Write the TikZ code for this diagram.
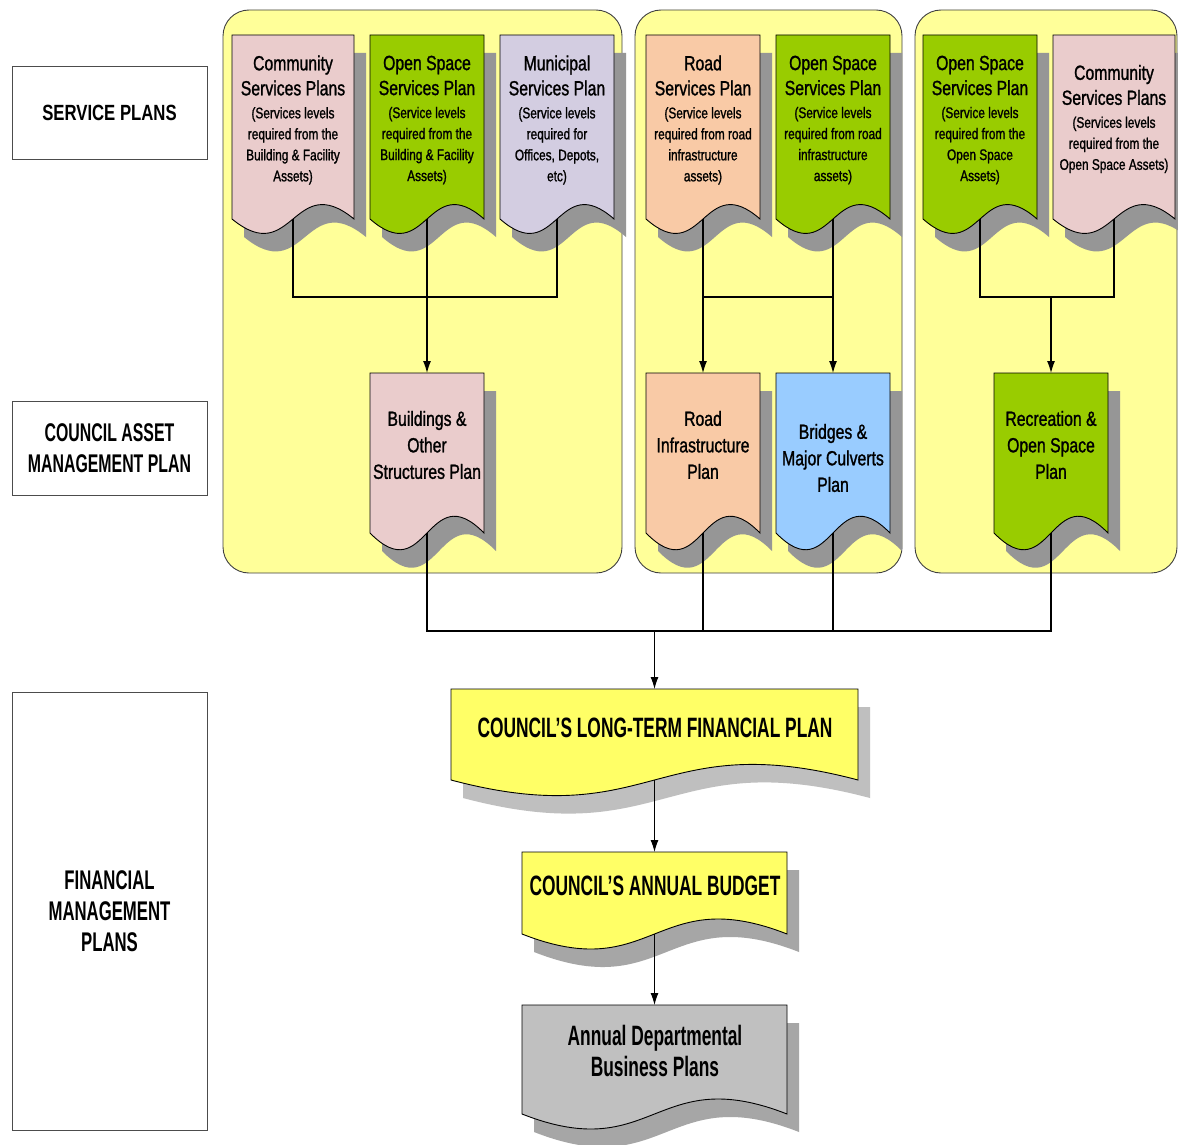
\documentclass[tikz,border=0pt]{standalone}
\usepackage{fontspec}
\usetikzlibrary{arrows.meta}
\setmainfont{Liberation Sans}
\newfontfamily\fnA[FakeStretch=0.77,FakeBold=1.2]{Liberation Sans}
\newfontfamily\fnB[FakeStretch=0.62]{Liberation Sans}
\newfontfamily\fnC[FakeStretch=0.76]{Liberation Sans}

\definecolor{panelyellow}{HTML}{FFFF99}
\definecolor{docpink}{HTML}{EACCCC}
\definecolor{docgreen}{HTML}{99CC00}
\definecolor{doclav}{HTML}{D3CDE1}
\definecolor{docpeach}{HTML}{F9CAA6}
\definecolor{docblue}{HTML}{99CCFF}
\definecolor{docyellow}{HTML}{FFFF66}
\definecolor{docgrey}{HTML}{C0C0C0}
\definecolor{shadowdark}{HTML}{969696}
\definecolor{shadowpale}{HTML}{BFBFBF}
\definecolor{shadowmid}{HTML}{A6A6A6}

\tikzset{
  docline/.style={draw=black, line width=0.9pt},
  conn/.style={draw=black, line width=1.1pt},
  arr/.style={conn, -{Latex[length=12pt,width=8pt]}},
  panel/.style={draw=black!75, line width=0.9pt, fill=panelyellow, rounded corners=26pt},
  sidelabel/.style={draw=black!70, line width=0.8pt, fill=white, align=center,
    minimum width=195pt, inner sep=0pt},
  svctext/.style={align=center, inner sep=0pt, font=\fnA\fontsize{15.4}{21}\selectfont},
  plantext/.style={align=center, inner sep=0pt, font=\fnA\fontsize{20.5}{26.5}\selectfont},
  bigtext/.style={align=center, inner sep=0pt, font=\fnB\bfseries\fontsize{28}{31}\selectfont},
}

% heading lines inside the service-plan documents
\newcommand\hd[1]{{\fontsize{20.5}{25}\selectfont #1}}

% document shape with wavy bottom and drop shadow
% #1 name, #2 left x, #3 top y, #4 right x, #5 corner y, #6 wave, #7 fill, #8 shadow
\newcommand\plandoc[8]{%
  \fill[#8, shift={(12,18)}] (#2,#3) -- (#4,#3) -- (#4,#5)
    .. controls ({(#2+#4)/2},{#5-#6}) and ({(#2+#4)/2},{#5+#6}) .. (#2,#5) -- cycle;
  \filldraw[docline, fill=#7] (#2,#3) -- (#4,#3) -- (#4,#5)
    .. controls ({(#2+#4)/2},{#5-#6}) and ({(#2+#4)/2},{#5+#6}) .. (#2,#5) -- cycle;
  \coordinate (#1-t) at ({(#2+#4)/2},#3);
  \coordinate (#1-b) at ({(#2+#4)/2},#5);
}

\begin{document}
\begin{tikzpicture}[x=1pt, y=-1pt]
\useasboundingbox (0,0) rectangle (1178,1145);
\clip (0,0) rectangle (1178,1145);
\fill[white] (0,0) rectangle (1178,1145);

% left-hand level labels
\node[sidelabel, minimum height=93pt, font=\fnC\bfseries\fontsize{22}{27}\selectfont]
  (lsp) at (109.5,112.5) {SERVICE PLANS};
\node[sidelabel, minimum height=94pt, font=\fnB\bfseries\fontsize{25.6}{31}\selectfont]
  (lam) at (109.5,448) {COUNCIL ASSET\\MANAGEMENT PLAN};
\node[sidelabel, minimum height=438pt, font=\fnB\bfseries\fontsize{27}{31}\selectfont]
  (lfm) at (109.5,911) {FINANCIAL\\MANAGEMENT\\PLANS};

% asset groups
\draw[panel] (223,10) rectangle (622,573);
\draw[panel] (635,10) rectangle (902,573);
\draw[panel] (915,10) rectangle (1177,573);

% service plans
\plandoc{cs1}{232}{35}{354}{219}{50}{docpink}{shadowdark}
\plandoc{os1}{370}{35}{484}{219}{50}{docgreen}{shadowdark}
\plandoc{ms1}{500}{35}{614}{219}{50}{doclav}{shadowdark}
\plandoc{rs}{646}{35}{760}{219}{50}{docpeach}{shadowdark}
\plandoc{os2}{776}{35}{890}{219}{50}{docgreen}{shadowdark}
\plandoc{os3}{923}{35}{1037}{219}{50}{docgreen}{shadowdark}
\plandoc{cs3}{1053}{35}{1175}{219}{50}{docpink}{shadowdark}

% asset management plans
\plandoc{bld}{370}{373}{484}{533}{58}{docpink}{shadowdark}
\plandoc{ri}{646}{373}{760}{533}{58}{docpeach}{shadowdark}
\plandoc{br}{776}{373}{890}{533}{58}{docblue}{shadowdark}
\plandoc{rec}{994}{373}{1108}{533}{58}{docgreen}{shadowdark}

% financial plans
\plandoc{ltfp}{451}{689}{858}{780}{54}{docyellow}{shadowpale}
\plandoc{bud}{522}{852}{787}{934}{52}{docyellow}{shadowmid}
\plandoc{adb}{522}{1005}{787}{1114}{52}{docgrey}{shadowmid}

% document texts
\node[svctext] (cs1) at (293,120) {\hd{Community}\\[4pt]\hd{Services Plans}\\[2pt](Services levels\\required from the\\Building \& Facility\\Assets)};
\node[svctext] (os1) at (427,120) {\hd{Open Space}\\[4pt]\hd{Services Plan}\\[2pt](Service levels\\required from the\\Building \& Facility\\Assets)};
\node[svctext] (ms1) at (557,120) {\hd{Municipal}\\[4pt]\hd{Services Plan}\\[2pt](Service levels\\required for\\Offices, Depots,\\etc)};
\node[svctext] (rs) at (703,120) {\hd{Road}\\[4pt]\hd{Services Plan}\\[2pt](Service levels\\required from road\\infrastructure\\assets)};
\node[svctext] (os2) at (833,120) {\hd{Open Space}\\[4pt]\hd{Services Plan}\\[2pt](Service levels\\required from road\\infrastructure\\assets)};
\node[svctext] (os3) at (980,120) {\hd{Open Space}\\[4pt]\hd{Services Plan}\\[2pt](Service levels\\required from the\\Open Space\\Assets)};
\node[svctext] (cs3) at (1114,119) {\hd{Community}\\[4pt]\hd{Services Plans}\\[2pt](Services levels\\required from the\\Open Space Assets)};

\node[plantext] (bld) at (427,445) {Buildings \&\\Other\\Structures Plan};
\node[plantext] (ri) at (703,445) {Road\\Infrastructure\\Plan};
\node[plantext] (br) at (833,458) {Bridges \&\\Major Culverts\\Plan};
\node[plantext] (rec) at (1051,445) {Recreation \&\\Open Space\\Plan};

\node[bigtext] (ltfp) at (655,728) {COUNCIL’S LONG-TERM FINANCIAL PLAN};
\node[bigtext] (bud) at (655,886) {COUNCIL’S ANNUAL BUDGET};
\node[bigtext] (adb) at (655,1051) {Annual Departmental\\Business Plans};

% junction levels
\coordinate (j1) at (0,297);
\coordinate (j2) at (0,631);

% connectors: service plans to asset plans
\draw[conn] (cs1-b) -- (cs1-b |- j1) -- (ms1-b |- j1) -- (ms1-b);
\draw[arr] (os1-b) -- (bld-t);
\draw[arr] (rs-b) -- (ri-t);
\draw[arr] (os2-b) -- (br-t);
\draw[conn] (rs-b |- j1) -- (os2-b |- j1);
\draw[conn] (os3-b) -- (os3-b |- j1) -- (cs3-b |- j1) -- (cs3-b);
\draw[arr] (rec-t |- j1) -- (rec-t);

% connectors: asset plans to financial plans
\draw[conn] (bld-b) -- (bld-b |- j2) -- (rec-b |- j2) -- (rec-b);
\draw[conn] (ri-b) -- (ri-b |- j2);
\draw[conn] (br-b) -- (br-b |- j2);
\draw[arr] (ltfp-t |- j2) -- (ltfp-t);
\draw[arr] (ltfp-b) -- (bud-t);
\draw[arr] (bud-b) -- (adb-t);
\end{tikzpicture}
\end{document}
